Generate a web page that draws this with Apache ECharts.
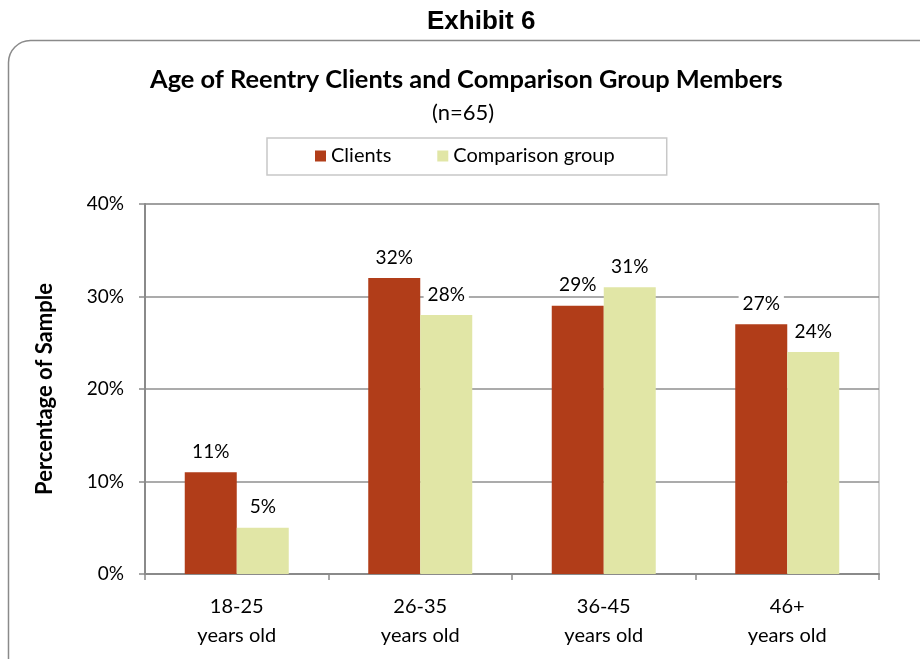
<!DOCTYPE html>
<html>
<head>
<meta charset="utf-8">
<script src="https://cdn.jsdelivr.net/npm/echarts@6/dist/echarts.min.js"></script>
<style>
  html, body { margin: 0; padding: 0; background: #fff; }
  #chart { width: 920px; height: 659px; }
</style>
</head>
<body>
<div id="chart"></div>
<script>
// age groups on the x axis
var categories = ['18-25\nyears old', '26-35\nyears old', '36-45\nyears old', '46+\nyears old']
var clients = [11, 32, 29, 27]
var comparison = [5, 28, 31, 24]
var yTicks = [0, 10, 20, 30, 40]

var font = 'Lato, "Open Sans", sans-serif'
var chart = echarts.init(document.getElementById('chart'))

chart.setOption({
  backgroundColor: '#fff',
  animation: false,
  graphic: [{
    type: 'rect',
    shape: { x: 8.5, y: 40.5, width: 960, height: 700, r: 22 },
    style: { fill: 'none', stroke: '#8a8a8a', lineWidth: 1.5 },
    z: -1
  }],
  title: [{
    text: 'Exhibit 6',
    left: 422,
    top: 4,
    textStyle: { fontFamily: '"Liberation Sans", Arial, sans-serif', fontSize: 26, fontWeight: 'bold', color: '#000' }
  }, {
    text: 'Age of Reentry Clients and Comparison Group Members',
    left: 145,
    top: 62,
    textStyle: { fontFamily: font, fontSize: 25.4, fontWeight: 'bold', color: '#000' }
  }, {
    text: '(n=65)',
    left: 427,
    top: 97,
    textStyle: { fontFamily: font, fontSize: 22, fontWeight: 'normal', color: '#000' }
  }],
  legend: {
    data: ['Clients', 'Comparison group'],
    left: 267,
    top: 138,
    padding: [8, 52, 9, 48],
    borderColor: '#c8c8c8',
    borderWidth: 1.5,
    itemWidth: 11,
    itemHeight: 11,
    itemGap: 46,
    icon: 'rect',
    textStyle: { fontFamily: font, fontSize: 20, color: '#000' }
  },
  grid: {
    left: 145,
    right: 41,
    top: 204,
    bottom: 85,
    show: true,
    borderColor: '#c4c4c4',
    borderWidth: 1.5
  },
  xAxis: {
    type: 'category',
    data: categories,
    axisLine: { lineStyle: { color: '#8a8a8a', width: 2 } },
    axisTick: { show: true, length: 6, lineStyle: { color: '#8a8a8a', width: 1.5 } },
    axisLabel: { fontFamily: font, fontSize: 20, color: '#000', lineHeight: 29, margin: 18 }
  },
  yAxis: {
    type: 'value',
    min: yTicks[0],
    max: yTicks[yTicks.length - 1],
    interval: 10,
    name: 'Percentage of Sample',
    nameLocation: 'middle',
    nameGap: 89,
    nameTextStyle: { fontFamily: font, fontSize: 22, fontWeight: 'bold', color: '#000' },
    axisLine: { show: true, lineStyle: { color: '#8a8a8a', width: 2 } },
    axisTick: { show: true, length: 6, lineStyle: { color: '#8a8a8a', width: 1.5 } },
    splitLine: { lineStyle: { color: '#8f8f8f', width: 1.5 } },
    axisLabel: { fontFamily: font, fontSize: 19, color: '#000', margin: 21, formatter: '{value}%' }
  },
  series: [{
    name: 'Clients',
    type: 'bar',
    data: clients,
    barWidth: 52,
    barGap: '0%',
    itemStyle: { color: '#b13d19' },
    label: {
      show: true,
      position: 'top',
      distance: 10,
      formatter: '{c}%',
      fontFamily: font,
      fontSize: 19,
      color: '#000',
      backgroundColor: '#fff',
      padding: [1, 4]
    }
  }, {
    name: 'Comparison group',
    type: 'bar',
    data: comparison,
    barWidth: 52,
    itemStyle: { color: '#e1e6a6' },
    label: {
      show: true,
      position: 'top',
      distance: 10,
      formatter: '{c}%',
      fontFamily: font,
      fontSize: 19,
      color: '#000',
      backgroundColor: '#fff',
      padding: [1, 4]
    }
  }]
})
</script>
</body>
</html>
